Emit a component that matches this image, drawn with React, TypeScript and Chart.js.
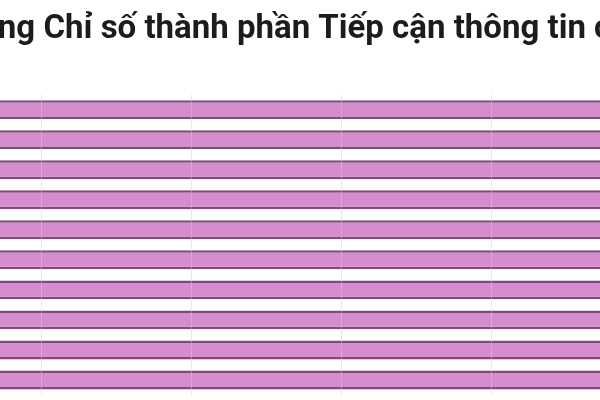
import React, { useEffect, useRef } from 'react';
import { Chart, registerables } from 'chart.js';

Chart.register(...registerables);

// Tiêu đề (bị cắt hai bên trong ảnh gốc)
const tieuDe = 'Xếp hạng Chỉ số thành phần Tiếp cận thông tin của';

// Thứ hạng (nhãn trục dọc, không hiển thị trong phần ảnh được cắt)
const hang = ['1', '2', '3', '4', '5', '6', '7', '8', '9', '10'];

// Điểm chỉ số - các thanh đều vượt ra ngoài mép phải của khung nhìn
const diem = [6.95, 6.9, 6.86, 6.81, 6.77, 6.72, 6.68, 6.63, 6.59, 6.55];

const mauThanh = '#d68dce';
const mauVien = '#7f4a7b';

const App: React.FC = () => {
  const chartRef = useRef<HTMLCanvasElement>(null);
  const chartInstance = useRef<Chart | null>(null);

  useEffect(() => {
    if (!chartRef.current) return;
    const ctx = chartRef.current.getContext('2d');
    if (!ctx) return;

    if (chartInstance.current) {
      chartInstance.current.destroy();
    }

    chartInstance.current = new Chart(ctx, {
      type: 'bar',
      data: {
        labels: hang,
        datasets: [
          {
            label: 'Điểm',
            data: diem,
            backgroundColor: mauThanh,
            borderColor: mauVien,
            borderWidth: 2.5,
            barPercentage: 0.63,
            categoryPercentage: 1
          }
        ]
      },
      options: {
        indexAxis: 'y',
        responsive: true,
        maintainAspectRatio: false,
        animation: false,
        layout: {
          padding: { left: 0, right: 0, top: 0, bottom: 5 }
        },
        plugins: {
          legend: { display: false },
          tooltip: { enabled: false },
          title: {
            display: true,
            text: tieuDe,
            align: 'center',
            color: '#1c1c1c',
            font: { family: 'Roboto', size: 33, weight: 'bold', lineHeight: 1.2 },
            padding: { top: 10, bottom: 45 }
          }
        },
        scales: {
          x: {
            min: 0,
            max: 7.07,
            ticks: { display: false, stepSize: 1 },
            border: { display: false },
            grid: {
              color: 'rgba(205, 205, 215, 0.45)',
              lineWidth: 1,
              drawTicks: false,
              z: 1
            }
          },
          y: {
            display: false
          }
        }
      }
    });

    return () => {
      if (chartInstance.current) {
        chartInstance.current.destroy();
        chartInstance.current = null;
      }
    };
  }, []);

  return (
    <div
      style={{
        position: 'fixed',
        left: 0,
        top: 0,
        width: 600,
        height: 400,
        overflow: 'hidden',
        background: '#ffffff'
      }}
    >
      <div style={{ position: 'absolute', left: -258, top: 0, width: 1060, height: 400 }}>
        <canvas ref={chartRef}></canvas>
      </div>
    </div>
  );
};

export default App;
